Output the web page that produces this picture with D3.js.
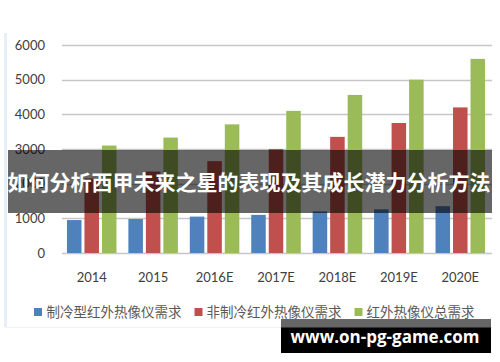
<!DOCTYPE html>
<html>
<head>
<meta charset="utf-8">
<script src="https://cdn.jsdelivr.net/npm/d3@7"></script>
<style>
  body { margin: 0; background: #fff; }
  svg { display: block; }
</style>
</head>
<body>
<div id="chart"></div>
<script>
const years = ['2014', '2015', '2016E', '2017E', '2018E', '2019E', '2020E'];
const seriesNames = ['制冷型红外热像仪需求', '非制冷红外热像仪需求', '红外热像仪总需求'];
const cooled = [950, 980, 1050, 1100, 1200, 1260, 1350];
const uncooled = [2150, 2350, 2650, 3000, 3350, 3750, 4200];
const total = [3100, 3330, 3710, 4100, 4560, 5000, 5600];
const yTicks = [0, 1000, 2000, 3000, 4000, 5000, 6000];
const colors = ['#4f81bd', '#c0504d', '#9bbb59'];

const width = 500, height = 362;
const margin = { top: 45, right: 9, bottom: 109, left: 61 };

const svg = d3.select('#chart').append('svg')
  .attr('width', width)
  .attr('height', height);

// chart panel border
svg.append('line')
  .attr('x1', 5.5).attr('x2', 5.5).attr('y1', 33).attr('y2', 327)
  .style('stroke', '#e8eef6').style('stroke-width', 3);
svg.append('line')
  .attr('x1', 5).attr('x2', 492).attr('y1', 327.5).attr('y2', 327.5)
  .style('stroke', '#eef2f8').style('stroke-width', 1);

const x = d3.scaleBand()
  .domain(years)
  .range([margin.left, width - margin.right]);

const xInner = d3.scaleBand()
  .domain(d3.range(3))
  .range([0, x.bandwidth()])
  .paddingInner(0.17)
  .paddingOuter(0.34);

const y = d3.scaleLinear()
  .domain([0, 6000])
  .range([253, 45]);

// gridlines
svg.append('g')
  .selectAll('line')
  .data(yTicks)
  .enter().append('line')
  .attr('x1', 62)
  .attr('x2', 492)
  .attr('y1', d => Math.round(y(d)) + 0.5)
  .attr('y2', d => Math.round(y(d)) + 0.5)
  .style('stroke', '#c6c6c6')
  .style('stroke-width', 1.3);

// y labels
svg.append('g')
  .selectAll('text')
  .data(yTicks)
  .enter().append('text')
  .attr('x', 45)
  .attr('y', d => y(d))
  .attr('dy', '0.35em')
  .attr('text-anchor', 'end')
  .style('font-family', 'Lato, "Open Sans", sans-serif')
  .style('font-size', '13px')
  .style('fill', '#404040')
  .text(d => d);

// x labels
svg.append('g')
  .selectAll('text')
  .data(years)
  .enter().append('text')
  .attr('x', d => x(d) + x.bandwidth() / 2)
  .attr('y', 277)
  .attr('dy', '0.35em')
  .attr('text-anchor', 'middle')
  .style('font-family', 'Lato, "Open Sans", sans-serif')
  .style('font-size', '13px')
  .style('fill', '#404040')
  .text(d => d);

// bars
const series = [cooled, uncooled, total];
const groups = svg.append('g')
  .selectAll('g')
  .data(years)
  .enter().append('g')
  .attr('transform', d => `translate(${x(d)},0)`);

groups.selectAll('rect')
  .data((d, i) => series.map((s, k) => ({ k: k, v: s[i] })))
  .enter().append('rect')
  .attr('x', d => xInner(d.k))
  .attr('width', xInner.bandwidth())
  .attr('y', d => y(d.v))
  .attr('height', d => y(0) - y(d.v))
  .style('fill', d => colors[d.k]);

// legend
const legendItems = [
  { name: seriesNames[0], sx: 34, tx: 46.5 },
  { name: seriesNames[1], sx: 194.5, tx: 206.5 },
  { name: seriesNames[2], sx: 354.5, tx: 366.5 }
];
const legend = svg.append('g')
  .selectAll('g')
  .data(legendItems)
  .enter().append('g');

legend.append('rect')
  .attr('x', d => d.sx)
  .attr('y', 308)
  .attr('width', 8)
  .attr('height', 8)
  .style('fill', (d, i) => colors[i]);

legend.append('text')
  .attr('x', d => d.tx)
  .attr('y', 312.5)
  .attr('dy', '0.35em')
  .style('font-family', '"Noto Sans CJK SC", sans-serif')
  .style('font-size', '13.5px')
  .style('fill', '#595959')
  .text(d => d.name);

// title banner
svg.append('rect')
  .attr('x', 8).attr('y', 150)
  .attr('width', 484).attr('height', 63)
  .style('fill', 'rgba(0,0,0,0.6)');

svg.append('text')
  .attr('x', 249)
  .attr('y', 183)
  .attr('dy', '0.35em')
  .attr('text-anchor', 'middle')
  .style('font-family', '"Noto Sans CJK SC", sans-serif')
  .style('font-weight', 'bold')
  .style('font-size', '21px')
  .style('fill', '#fff')
  .text('如何分析西甲未来之星的表现及其成长潜力分析方法');

// watermark
svg.append('rect')
  .attr('x', 281).attr('y', 319)
  .attr('width', 210).attr('height', 34)
  .style('fill', '#000');
svg.append('rect')
  .attr('x', 281).attr('y', 319)
  .attr('width', 210).attr('height', 8.5)
  .style('fill', '#666');

svg.append('text')
  .attr('x', 385)
  .attr('y', 337)
  .attr('dy', '0.35em')
  .attr('text-anchor', 'middle')
  .style('font-family', '"Open Sans", "DejaVu Sans", sans-serif')
  .style('font-weight', 'bold')
  .style('font-size', '17px')
  .style('fill', '#fff')
  .text('www.on-pg-game.com');
</script>
</body>
</html>
